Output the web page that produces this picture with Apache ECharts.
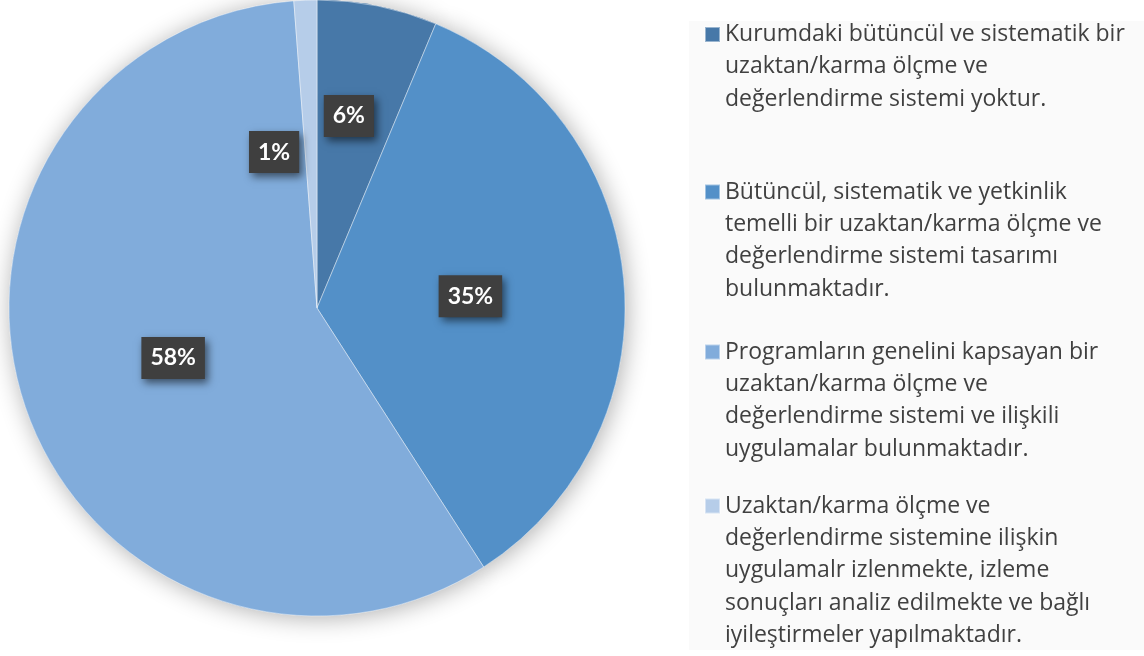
<!DOCTYPE html>
<html>
<head>
<meta charset="utf-8">
<script src="https://cdn.jsdelivr.net/npm/echarts@6/dist/echarts.min.js"></script>
<style>html,body{margin:0;padding:0;background:#fff}#c{width:1144px;height:656px}</style>
</head>
<body>
<div id="c"></div>
<script>
var categories = [
  "Kurumdaki bütüncül ve sistematik bir\nuzaktan/karma ölçme ve\ndeğerlendirme sistemi yoktur.",
  "Bütüncül, sistematik ve yetkinlik\ntemelli bir uzaktan/karma ölçme ve\ndeğerlendirme sistemi tasarımı\nbulunmaktadır.",
  "Programların genelini kapsayan bir\nuzaktan/karma ölçme ve\ndeğerlendirme sistemi ve ilişkili\nuygulamalar bulunmaktadır.",
  "Uzaktan/karma ölçme ve\ndeğerlendirme sistemine ilişkin\nuygulamalr izlenmekte, izleme\nsonuçları analiz edilmekte ve bağlı\niyileştirmeler yapılmaktadır."
];
var values = [6.3, 34.6, 57.9, 1.2];
var displayLabels = ["6%", "35%", "58%", "1%"];
var colors = ["#4778a8", "#5390c8", "#81acdb", "#b6cde9"];

var lh = 32.4;
var iconCenters = [34.5, 192, 352, 506];
var labelOffsets = [[1, -38], [-3, 2], [5, 0], [-37, 1]];

var chart = echarts.init(document.getElementById('c'));

function padText(t) {
  var n = t.split('\n').length;
  var pre = '';
  for (var i = 0; i < n - 1; i++) pre += '\n';
  return pre + t;
}

var legends = categories.map(function (name, i) {
  var n = name.split('\n').length;
  var H = (2 * n - 1) * lh;
  return {
    data: [name],
    orient: 'vertical',
    left: 704,
    top: iconCenters[i] - H / 2,
    padding: 0,
    itemWidth: 15,
    itemHeight: 15,
    itemGap: 0,
    icon: 'rect',
    selectedMode: false,
    formatter: function (nm) { return padText(nm); },
    textStyle: { fontFamily: 'Open Sans', fontSize: 23, color: '#404040', lineHeight: lh }
  };
});

var data = categories.map(function (name, i) {
  return {
    name: name,
    value: values[i],
    itemStyle: { color: colors[i] },
    label: { offset: labelOffsets[i] }
  };
});

chart.setOption({
  animation: false,
  color: colors,
  graphic: [{
    type: 'rect',
    left: 689, top: 21,
    shape: { width: 455, height: 629 },
    style: { fill: '#fafafa' },
    z: -10
  }],
  legend: legends,
  series: [{
    type: 'pie',
    silent: true,
    center: [317, 308],
    radius: 308,
    startAngle: 90,
    clockwise: true,
    z: 1,
    label: { show: false },
    labelLine: { show: false },
    itemStyle: { shadowBlur: 24, shadowOffsetX: 2, shadowOffsetY: 2, shadowColor: 'rgba(0,0,0,0.32)' },
    data: values.map(function (v, i) { return { name: '_' + i, value: v, itemStyle: { color: colors[i] } }; }),
    legendHoverLink: false
  }, {
    type: 'pie',
    center: [317, 308],
    radius: 308,
    startAngle: 90,
    clockwise: true,
    z: 2,
    itemStyle: { borderColor: 'rgba(255,255,255,0.45)', borderWidth: 1 },
    label: {
      show: true,
      position: 'inside',
      formatter: function (p) { return displayLabels[p.dataIndex]; },
      color: '#ffffff',
      fontFamily: 'Lato',
      fontWeight: 'bold',
      fontSize: 23,
      lineHeight: 24,
      backgroundColor: '#3f3f3f',
      padding: [9, 9, 9, 9],
      shadowColor: 'rgba(0,0,0,0.55)',
      shadowBlur: 8,
      shadowOffsetX: 3,
      shadowOffsetY: 4
    },
    labelLine: { show: false },
    data: data
  }]
});
</script>
</body>
</html>
